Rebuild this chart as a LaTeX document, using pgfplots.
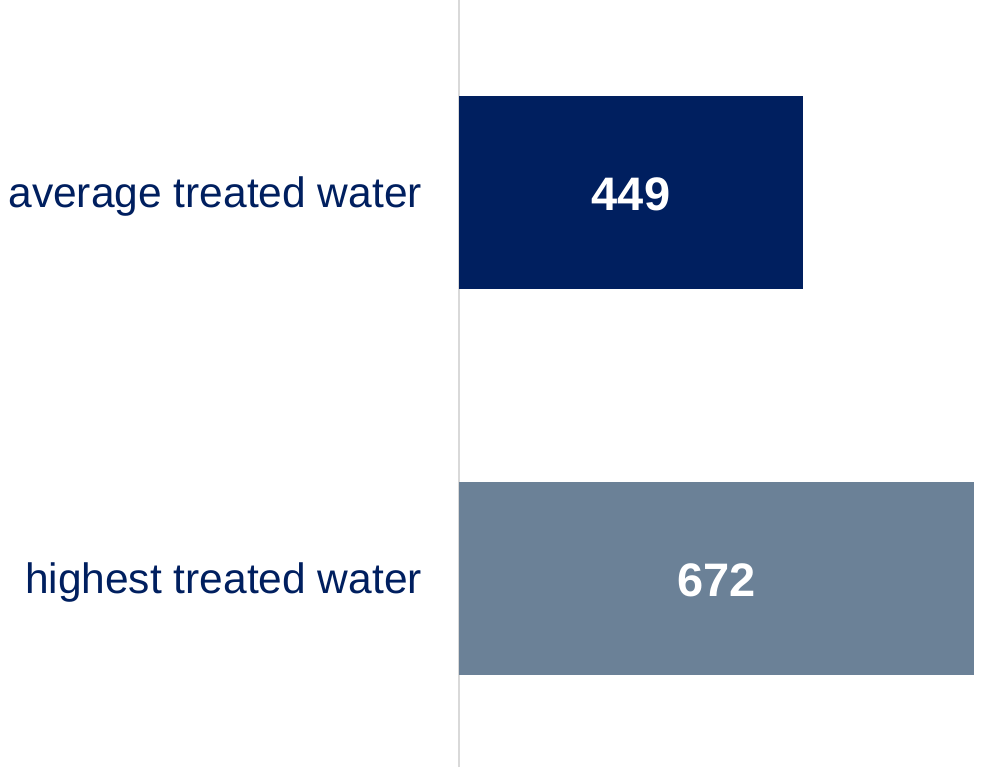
\documentclass[border=0pt]{standalone}
\usepackage{pgfplots}
\pgfplotsset{compat=1.18}
\usepackage{fontspec}
\setmainfont{Liberation Sans}
\definecolor{navy}{HTML}{001F5F}
\definecolor{slate}{HTML}{6B8197}
\definecolor{axgray}{HTML}{D9D9D9}
\begin{document}
\begin{tikzpicture}
\useasboundingbox (-229.5pt,0pt) rectangle (262.5pt,383.5pt);
\begin{axis}[
  scale only axis,
  width=262.5pt, height=383.5pt,
  xmin=0, xmax=685,
  ymin=-0.49, ymax=1.5,
  xbar, bar width=0.5, bar shift=0pt,
  axis x line=none,
  axis y line=left,
  y axis line style={-, draw=axgray, line width=1pt},
  ytick={0,1},
  yticklabels={highest treated water, average treated water},
  major tick length=0pt,
  yticklabel style={font=\fontsize{21.25}{25}\selectfont, text=navy, xshift=-15pt, yshift=-2pt},
  /pgf/number format/assume math mode=true,
  nodes near coords,
  visualization depends on=rawx \as \rawx,
  every node near coord/.append style={anchor=center, font=\fontsize{23.5}{28}\selectfont\bfseries, text=white, shift={(axis direction cs:-\rawx/2,0)}, yshift=-1pt},
  clip=false,
]
\addplot[draw=none, fill=slate] coordinates {(672,0)};
\addplot[draw=none, fill=navy] coordinates {(449,1)};
\end{axis}
\end{tikzpicture}
\end{document}
